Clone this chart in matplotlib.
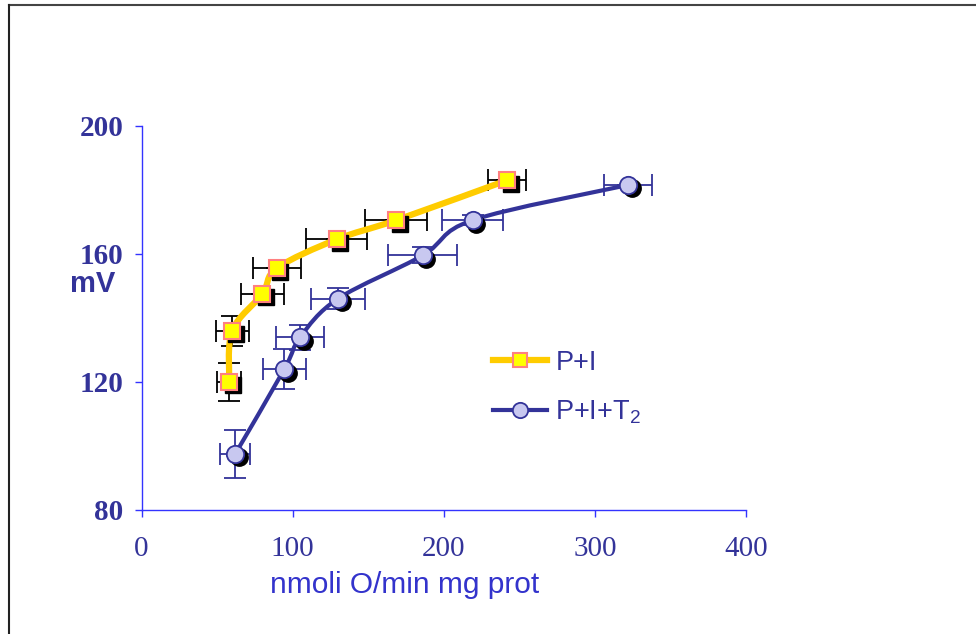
import numpy as np
import matplotlib
matplotlib.use("Agg")
import matplotlib.pyplot as plt
from matplotlib.path import Path
from matplotlib.patches import PathPatch
from matplotlib.lines import Line2D
from matplotlib.transforms import ScaledTranslation

plt.rcParams['mathtext.fontset'] = 'custom'
plt.rcParams['mathtext.rm'] = 'Liberation Sans'
plt.rcParams['mathtext.it'] = 'Liberation Sans:italic'

# P+I series
pi_x = [58, 60, 80, 89.5, 129, 168.5, 242]
pi_y = [120, 136, 147.5, 155.5, 164.5, 170.5, 183]
pi_xerr = [8, 11, 14, 16, 20, 20.5, 12.5]
pi_yerr = [6, 4.7, 0, 0, 0, 0, 0]

# P+I+T2 series
pit_x = [62, 94.5, 105, 130, 186, 219, 322]
pit_y = [97.5, 124, 134, 146, 159.5, 170.5, 181.5]
pit_xerr = [10, 14, 16, 18, 23, 20, 16]
pit_yerr = [7.4, 6.2, 3.9, 3.2, 2.5, 1.5, 0]

x_ticks = [0, 100, 200, 300, 400]
y_ticks = [80, 120, 160, 200]

navy = '#333399'
axis_blue = '#3333FF'


def smooth_path(xs, ys):
    # Excel-like smoothed line: Catmull-Rom converted to cubic Bezier
    pts = np.column_stack([xs, ys]).astype(float)
    verts = [pts[0]]
    codes = [Path.MOVETO]
    n = len(pts)
    for i in range(n - 1):
        p0 = pts[i - 1] if i > 0 else pts[i]
        p1 = pts[i]
        p2 = pts[i + 1]
        p3 = pts[i + 2] if i + 2 < n else pts[i + 1]
        c1 = p1 + (p2 - p0) / 6
        c2 = p2 - (p3 - p1) / 6
        verts += [c1, c2, p2]
        codes += [Path.CURVE4] * 3
    return Path(verts, codes)


fig = plt.figure(figsize=(9.76, 6.34), dpi=100)
ax = fig.add_axes([0.145, 0.1956, 0.6195, 0.6061])

# error bars
ax.errorbar(pi_x, pi_y, xerr=pi_xerr, yerr=pi_yerr, fmt='none', ecolor='black',
            elinewidth=1.3, capsize=8, capthick=1.3, zorder=2)
ax.errorbar(pit_x, pit_y, xerr=pit_xerr, yerr=pit_yerr, fmt='none', ecolor=navy,
            elinewidth=1.3, capsize=8, capthick=1.3, zorder=2)

# smoothed lines
ax.add_patch(PathPatch(smooth_path(pi_x, pi_y), fill=False, edgecolor='#FFCC00',
                       linewidth=4.5, capstyle='butt', zorder=3))
ax.add_patch(PathPatch(smooth_path(pit_x, pit_y), fill=False, edgecolor=navy,
                       linewidth=3, capstyle='butt', zorder=3))

# marker shadows
shadow = ax.transData + ScaledTranslation(3.5 / 100, -3.5 / 100, fig.dpi_scale_trans)
ax.plot(pi_x, pi_y, 's', ms=12, color='black', transform=shadow, zorder=4)
ax.plot(pit_x, pit_y, 'o', ms=12.5, color='black', transform=shadow, zorder=4)

# markers
ax.plot(pi_x, pi_y, 's', ms=12, markerfacecolor='#FFFF00', markeredgecolor='#FF8080',
        markeredgewidth=1.5, zorder=5)
ax.plot(pit_x, pit_y, 'o', ms=12.5, markerfacecolor='#C8C8F0', markeredgecolor=navy,
        markeredgewidth=1.3, zorder=5)

ax.set_xlim(0, 400)
ax.set_ylim(80, 200)
ax.set_xticks(x_ticks)
ax.set_yticks(y_ticks)
for s in ['top', 'right']:
    ax.spines[s].set_visible(False)
for s in ['left', 'bottom']:
    ax.spines[s].set_color(axis_blue)
    ax.spines[s].set_linewidth(1)
ax.tick_params(axis='both', direction='out', length=5, width=1, color=axis_blue)
ax.tick_params(axis='x', pad=14)
ax.tick_params(axis='y', pad=8)
ax.set_xticklabels([str(v) for v in x_ticks], family='Liberation Serif',
                   fontsize=21, color=navy)
ax.set_yticklabels([str(v) for v in y_ticks], family='Liberation Serif',
                   fontsize=21, fontweight='bold', color=navy)

fig.text(93 / 976, 1 - 284 / 634, 'mV', family='Liberation Sans', fontsize=21,
         fontweight='bold', color=navy, ha='center', va='center')
fig.text(405 / 976, 1 - 585 / 634, 'nmoli O/min mg prot', family='Liberation Sans',
         fontsize=21.5, color='#3333CC', ha='center', va='center')

handles = [
    Line2D([], [], color='#FFCC00', lw=4.5, marker='s', ms=10,
           markerfacecolor='#FFFF00', markeredgecolor='#FF8080', markeredgewidth=1.5),
    Line2D([], [], color=navy, lw=3, marker='o', ms=11,
           markerfacecolor='#C8C8F0', markeredgecolor=navy, markeredgewidth=1.3),
]
leg = fig.legend(handles, ['P+I', 'P+I+T$_2$'], loc='center left',
                 bbox_to_anchor=(493 / 976, 1 - 388 / 634), frameon=False,
                 prop={'family': 'Liberation Sans', 'size': 19.5},
                 handlelength=2.0, handletextpad=0.3, labelspacing=0.85,
                 borderpad=0, borderaxespad=0)
for t in leg.get_texts():
    t.set_color(navy)

# page frame (top and left edges)
fig.add_artist(Line2D([9 / 976, 1], [1 - 5 / 634, 1 - 5 / 634], color='#444444',
                      lw=1.5, transform=fig.transFigure))
fig.add_artist(Line2D([9 / 976, 9 / 976], [0, 1 - 5 / 634], color='#222222',
                      lw=1.5, transform=fig.transFigure))

fig.savefig('out.png', dpi=100)
